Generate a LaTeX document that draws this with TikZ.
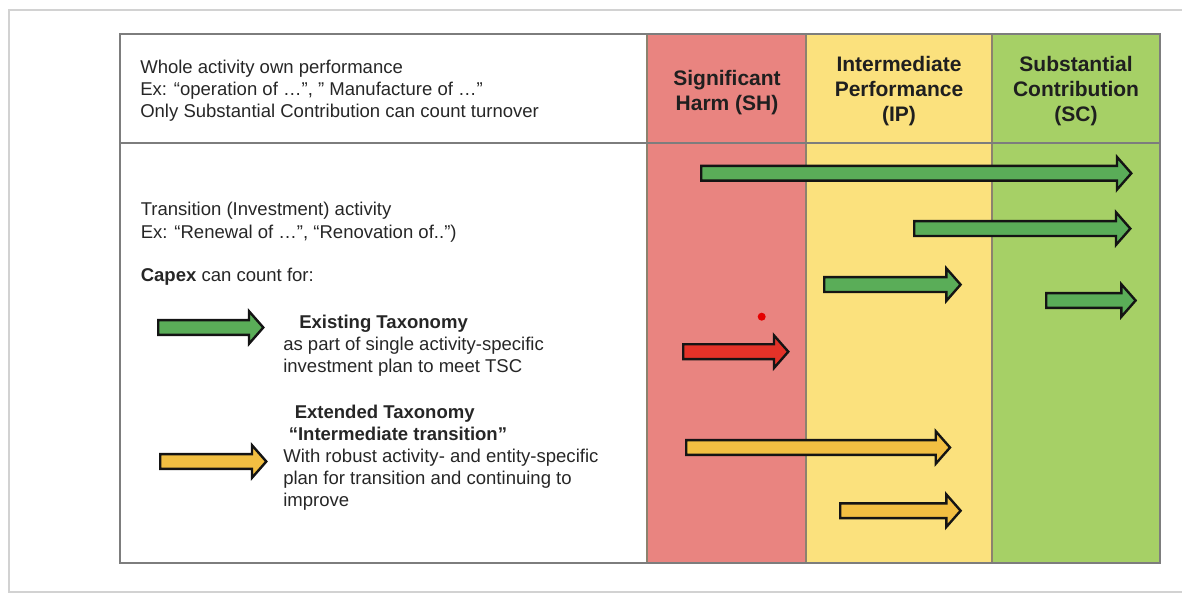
\documentclass[tikz,border=0pt]{standalone}
\usepackage{fontspec}
\setmainfont{Liberation Sans}
\definecolor{shred}{RGB}{233,132,128}
\definecolor{ipyel}{RGB}{251,225,125}
\definecolor{scgrn}{RGB}{166,208,102}
\definecolor{arrgrn}{RGB}{90,173,88}
\definecolor{arrred}{RGB}{228,50,40}
\definecolor{arryel}{RGB}{242,191,66}
\definecolor{framegray}{RGB}{210,210,210}
\definecolor{tablegray}{RGB}{125,125,125}
\definecolor{colline}{RGB}{140,130,110}
\newcommand\blockarr[4]{% xleft, xtip, ycenter, colour (outer extents)
  \draw[arrline, fill=#4] (#1+1.2,#3-7.4) -- (#2-16,#3-7.4) -- (#2-16,#3-16.3) -- (#2-1.7,#3)
    -- (#2-16,#3+16.3) -- (#2-16,#3+7.4) -- (#1+1.2,#3+7.4) -- cycle;}
\begin{document}
\begin{tikzpicture}[x=0.75pt,y=-0.75pt,
  arrline/.style={draw=black!92, line width=1.8pt, line join=miter},
  txt/.style={anchor=base west, inner sep=0pt, font=\fontsize{13.9pt}{16.5pt}\selectfont, text=black!85},
  bold/.style={txt, font=\fontsize{13.9pt}{16.5pt}\selectfont\bfseries},
  head/.style={anchor=base, inner sep=0pt, font=\fontsize{15.75pt}{18pt}\selectfont\bfseries, text=black!88}]
\useasboundingbox (0,0) rectangle (1182,595);
% page frame
\draw[framegray, line width=1.5pt] (1182,10) -- (9,10) -- (9,592) -- (1182,592);
% columns
\fill[shred] (647,34) rectangle (806,563);
\fill[ipyel] (806,34) rectangle (992,563);
\fill[scgrn] (992,34) rectangle (1160,563);
\draw[colline, line width=0.8pt] (647,34) -- (647,563) (806,34) -- (806,563) (992,34) -- (992,563);
% table frame
\draw[tablegray, line width=1pt] (120,34) rectangle (1160,563);
\draw[tablegray, line width=1pt] (120,143) -- (1160,143);
% header left text
\node[txt] (h1) at (140,74) {Whole activity own performance};
\node[txt] (h2) at (140,96) {Ex: “operation of …”, ” Manufacture of …”};
\node[txt] (h3) at (140,117.5) {Only Substantial Contribution can count turnover};
% column headers
\node[head] (sh1) at (727,86) {Significant};
\node[head] (sh2) at (727,110.5) {Harm (SH)};
\node[head] (ip1) at (899,72) {Intermediate};
\node[head] (ip2) at (899,97) {Performance};
\node[head] (ip3) at (899,122) {(IP)};
\node[head] (sc1) at (1076,72) {Substantial};
\node[head] (sc2) at (1076,97) {Contribution};
\node[head] (sc3) at (1076,122) {(SC)};
% body left text
\node[txt] (t1) at (140.5,216) {Transition (Investment) activity};
\node[txt] (t2) at (140.5,238.3) {Ex: “Renewal of …”, “Renovation of..”)};
\node[txt] (t3) at (140.5,281.7) {\textbf{Capex} can count for:};
\node[bold] (e1) at (299,328.5) {Existing Taxonomy};
\node[txt] (e2) at (283,350.5) {as part of single activity-specific};
\node[txt] (e3) at (283,372.5) {investment plan to meet TSC};
\node[bold] (x1) at (294.5,418) {Extended Taxonomy};
\node[bold] (x2) at (288.5,440) {“Intermediate transition”};
\node[txt] (x3) at (283,462.5) {With robust activity- and entity-specific};
\node[txt] (x4) at (283,484.5) {plan for transition and continuing to};
\node[txt] (x5) at (283,506.5) {improve};
% legend arrows
\blockarr{157}{265}{327.5}{arrgrn}
\blockarr{159}{268}{461.5}{arryel}
% chart arrows
\blockarr{700}{1133}{173.3}{arrgrn}
\blockarr{913}{1132}{228.6}{arrgrn}
\blockarr{823}{962.3}{284.6}{arrgrn}
\blockarr{1045}{1137.3}{300.5}{arrgrn}
\blockarr{682}{790}{351.7}{arrred}
\blockarr{685}{951.7}{447.5}{arryel}
\blockarr{839}{962.3}{510.7}{arryel}
% small red dot
\fill[red!90!black] (761.7,316.7) circle (3pt);
\end{tikzpicture}
\end{document}
